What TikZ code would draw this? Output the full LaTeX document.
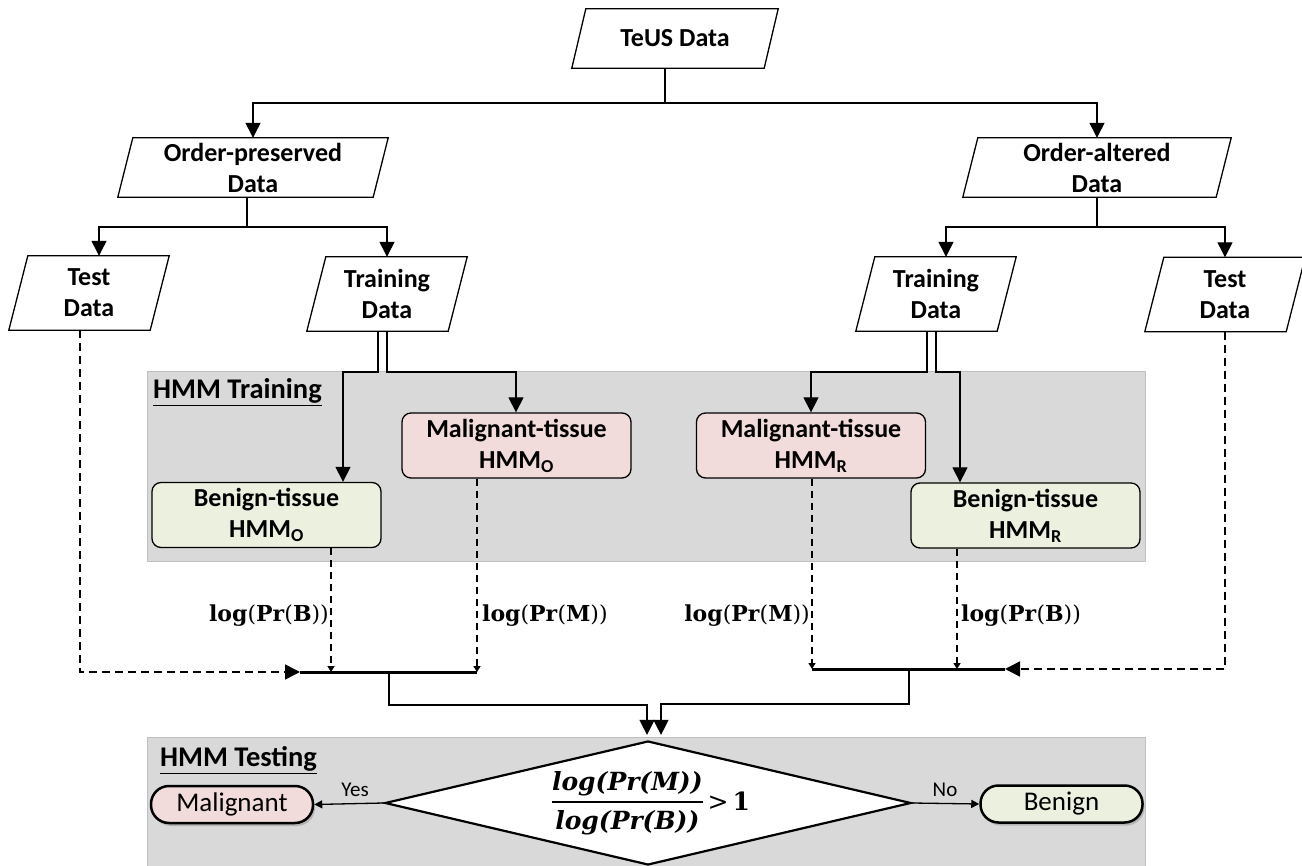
\documentclass[tikz,border=0pt]{standalone}
\usepackage{fix-cm}
\usepackage[no-math]{fontspec}
\setmainfont{Carlito}
\newfontfamily\dvs{DejaVu Serif}
\usetikzlibrary{arrows.meta,shapes.geometric,shadows}
\definecolor{malfill}{HTML}{F2DCDB}
\definecolor{benfill}{HTML}{EBF1DE}
\definecolor{regfill}{HTML}{D9D9D9}
\definecolor{regline}{HTML}{BFBFBF}
\newcommand{\drawpara}[2]{\draw[conn] ([xshift=#2]#1.north west) -- ([xshift=#2]#1.north east) -- ([xshift=-#2]#1.south east) -- ([xshift=-#2]#1.south west) -- cycle;}
\newcommand{\condexpr}{\setlength{\arrayrulewidth}{1.5pt}\setlength{\tabcolsep}{0pt}\begin{tabular}{c}log(Pr(M))\\[2pt]\hline\rule{0pt}{27pt}log(Pr(B))\end{tabular}\hspace{5pt}{\upshape\mdseries\textgreater}\hspace{4pt}{\upshape 1}}
\newcommand{\logB}{\textbf{log}(\textbf{Pr}(\textbf{B}))}
\newcommand{\logM}{\textbf{log}(\textbf{Pr}(\textbf{M}))}
\begin{document}
\begin{tikzpicture}[x=1pt,y=-1pt,
  conn/.style={draw=black, line width=1.3pt},
  arr/.style={conn, -{Triangle[length=15pt,width=15pt]}},
  sarr/.style={conn, -{Triangle[length=8pt,width=8pt]}},
  darr/.style={draw=black, line width=1.5pt, dash pattern=on 7pt off 5pt, -{Triangle[length=6pt,width=7pt]}},
  bigdarr/.style={draw=black, line width=1.5pt, dash pattern=on 8pt off 5pt, -{Triangle[length=15pt,width=15pt]}},
  bar/.style={draw=black, line width=3pt},
  databox/.style={inner sep=0pt, font=\fontsize{26}{31}\selectfont\bfseries, align=center},
  tissue/.style={conn, rounded corners=9pt, minimum width=229pt, minimum height=65pt, inner sep=0pt, align=center, font=\fontsize{26}{31}\selectfont\bfseries},
  term/.style={draw=black, line width=2.5pt, rounded corners=18pt, minimum width=162pt, minimum height=37pt, inner sep=0pt, font=\fontsize{27}{32}\selectfont, drop shadow={shadow xshift=2pt, shadow yshift=-3pt, opacity=0.4}},
  region/.style={fill=regfill, draw=regline, line width=1pt},
  regionlbl/.style={anchor=west, inner sep=0pt, font=\fontsize{28.5}{34}\selectfont\bfseries},
  loglbl/.style={inner sep=0pt, font=\dvs\fontsize{22}{26}\selectfont},
  condlbl/.style={inner sep=0pt, font=\dvs\fontsize{25}{30}\selectfont\bfseries\itshape},
  yn/.style={inner sep=0pt, font=\fontsize{21}{25}\selectfont}
]
\useasboundingbox (0,0) rectangle (1302,866);

% regions
\path[region] (147,372) rectangle (1145,561);
\path[region] (147,737) rectangle (1145,880);
\node[regionlbl] (trlbl) at (153,392) {\underline{HMM Training}};
\node[regionlbl] (telbl) at (160,760) {\underline{HMM Testing}};

% data nodes
\node[databox, minimum width=192pt, minimum height=59pt] (teus) at (675,38.5) {TeUS Data};
\node[databox, minimum width=255pt, minimum height=59pt] (op) at (253,167.5) {Order-preserved\\Data};
\node[databox, minimum width=253pt, minimum height=59pt] (oa) at (1097,167.5) {Order-altered\\Data};
\node[databox, minimum width=141pt, minimum height=74pt] (testL) at (89,293) {Test\\Data};
\node[databox, minimum width=141pt, minimum height=74pt] (trainL) at (387,294) {Training\\Data};
\node[databox, minimum width=141pt, minimum height=74pt] (trainR) at (936,294) {Training\\Data};
\node[databox, minimum width=141pt, minimum height=74pt] (testR) at (1225,294.5) {Test\\Data};
\drawpara{teus}{7pt}
\drawpara{op}{7.5pt}
\drawpara{oa}{7.5pt}
\drawpara{testL}{9.5pt}
\drawpara{trainL}{9.5pt}
\drawpara{trainR}{9.5pt}
\drawpara{testR}{9.5pt}

% HMM boxes
\node[tissue, fill=malfill] (mo) at (516.5,445.5) {Malignant-tissue\\HMM\textsubscript{O}};
\node[tissue, fill=malfill] (mr) at (811,445.5) {Malignant-tissue\\HMM\textsubscript{R}};
\node[tissue, fill=benfill] (bo) at (266.5,515) {Benign-tissue\\HMM\textsubscript{O}};
\node[tissue, fill=benfill] (br) at (1025.5,515.5) {Benign-tissue\\HMM\textsubscript{R}};

% testing
\node[diamond, draw=black, line width=2.2pt, fill=white, minimum width=526pt, minimum height=124pt, inner sep=0pt] (dia) at (648,803) {};
\node[condlbl] (cond) at (651,804) {\condexpr};
\node[term, fill=malfill] (mal) at (232,804.5) {Malignant};
\node[term, fill=benfill] (ben) at (1061.5,804) {Benign};

% top connectors
\coordinate (j1) at (665,103);
\draw[conn] ([xshift=-10pt]teus.south) -- (j1);
\draw[arr] (j1) -| (op.north);
\draw[arr] (j1) -| (oa.north);
\coordinate (j2) at (247,227);
\draw[conn] (op.south -| j2) -- (j2);
\draw[arr] (j2) -| ([xshift=10pt]testL.north);
\draw[arr] (j2) -| (trainL.north);
\coordinate (j3) at (1097,227);
\draw[conn] (oa.south -| j3) -- (j3);
\draw[arr] (j3) -| ([xshift=10pt]trainR.north);
\draw[arr] (j3) -| (testR.north);

% training connectors
\coordinate (kL) at (343,372);
\coordinate (kR) at (516,372);
\draw[arr] ([xshift=-9pt]trainL.south) |- (kL) -- (kL |- bo.north);
\draw[arr] (trainL.south) |- (kR) -- (kR |- mo.north);
\coordinate (kL2) at (811,372);
\coordinate (kR2) at (960,372);
\draw[arr] ([xshift=-9pt]trainR.south) |- (kL2) -- (kL2 |- mr.north);
\draw[arr] (trainR.south) |- (kR2) -- (kR2 |- br.north);

% bars
\coordinate (bL1) at (300,672);
\coordinate (bL2) at (477,672);
\coordinate (bB) at (331,672);
\draw[bar] (bL1) -- (bL2);
\coordinate (bR1) at (812,669);
\coordinate (bR2) at (1005,669);
\coordinate (bB2) at (957,669);
\draw[bar] (bR1) -- (bR2);

\draw[darr] (bB |- bo.south) -- (bB);
\draw[darr] (bL2 |- mo.south) -- (bL2);
\draw[darr] (bR1 |- mr.south) -- (bR1);
\draw[darr] (bB2 |- br.south) -- (bB2);
\draw[bigdarr] ([xshift=-9pt]testL.south) |- (bL1);
\draw[bigdarr] (testR.south) |- (bR2);

\node[loglbl, anchor=east] (l1) at (329,616) {\logB};
\node[loglbl, anchor=west] (l2) at (482,616) {\logM};
\node[loglbl, anchor=east] (l3) at (810,616) {\logM};
\node[loglbl, anchor=west] (l4) at (961,616) {\logB};

% into decision
\coordinate (sL) at (389,672);
\coordinate (sR) at (909,669);
\coordinate (tL) at (389,705);
\coordinate (tR) at (909,704);
\draw[arr] (sL) -- (tL) -| ([xshift=-1pt,yshift=5pt]dia.north);
\draw[arr] (sR) -- (tR) -| ([xshift=13pt,yshift=5pt]dia.north);

% decisions
\draw[sarr] (dia.west) -- (mal.east);
\draw[sarr] (dia.east) -- (ben.west);
\node[yn] (yes) at (355,790) {Yes};
\node[yn] (no) at (945,790) {No};
\end{tikzpicture}
\end{document}
